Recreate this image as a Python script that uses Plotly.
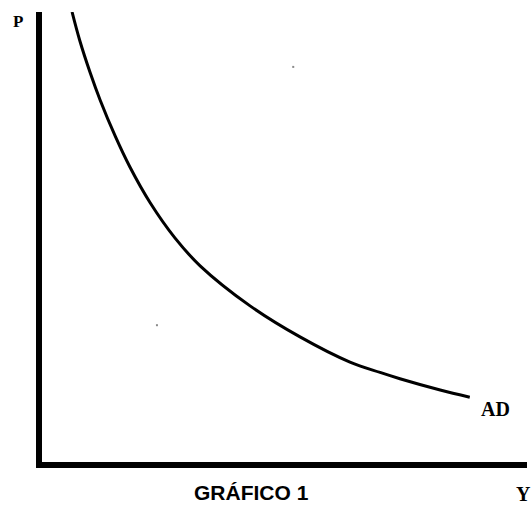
import plotly.graph_objects as go

# AD curve (arbitrary units, axes 0..100)
curve_y_output = [6.2, 7.8, 9.9, 12.0, 15.1, 18.1, 22.3, 27.4, 32.6, 42.9, 53.2, 63.5, 69.7, 73.8, 82.1, 88.2]
curve_p_price = [100.0, 93.6, 86.6, 80.4, 72.4, 65.6, 57.6, 49.8, 43.6, 34.7, 27.8, 22.2, 19.9, 18.5, 16.0, 14.4]

# small stray specks in the scanned image
speck_x = [48.5, 51.8, 23.7]
speck_y = [101.6, 87.8, 30.4]

axis_label_x = "Y"
axis_label_y = "P"
curve_label = "AD"
caption = "GRÁFICO 1"

fig = go.Figure()
fig.add_trace(go.Scatter(
    x=curve_y_output, y=curve_p_price, mode="lines",
    line=dict(color="black", width=3, shape="spline", smoothing=1.0),
    hoverinfo="skip", showlegend=False))
fig.add_trace(go.Scatter(
    x=speck_x, y=speck_y, mode="markers",
    marker=dict(color="#8a8a8a", size=2, symbol="square"),
    cliponaxis=False, hoverinfo="skip", showlegend=False))

serif = "Liberation Serif, Times New Roman, serif"
common = dict(xref="paper", yref="paper", showarrow=False, xanchor="center", yanchor="middle")
fig.add_annotation(x=-0.0495, y=0.98, text=f"<b>{axis_label_y}</b>",
                   font=dict(family=serif, size=17, color="black"), **common)
fig.add_annotation(x=0.936, y=0.118, text=f"<b>{curve_label}</b>",
                   font=dict(family=serif, size=20, color="black"), **common)
fig.add_annotation(x=0.992, y=-0.071, text=f"<b>{axis_label_x}</b>",
                   font=dict(family=serif, size=20, color="black"), **common)
fig.add_annotation(x=0.431, y=-0.0667, text=f"<b>{caption}</b>",
                   font=dict(family="Liberation Sans, Arial, sans-serif", size=21, color="black"),
                   **common)

fig.update_xaxes(range=[0, 100], showgrid=False, zeroline=False, showticklabels=False,
                 ticks="", showline=True, linewidth=6, linecolor="black")
fig.update_yaxes(range=[0, 100], showgrid=False, zeroline=False, showticklabels=False,
                 ticks="", showline=True, linewidth=6, linecolor="black")
fig.update_layout(width=531, height=506, margin=dict(l=42, r=4, t=12, b=44),
                  paper_bgcolor="white", plot_bgcolor="white")
fig.write_html("out.html", config={"displayModeBar": False, "staticPlot": True},
               post_script="document.body.style.margin='0';document.body.style.padding='0';")
